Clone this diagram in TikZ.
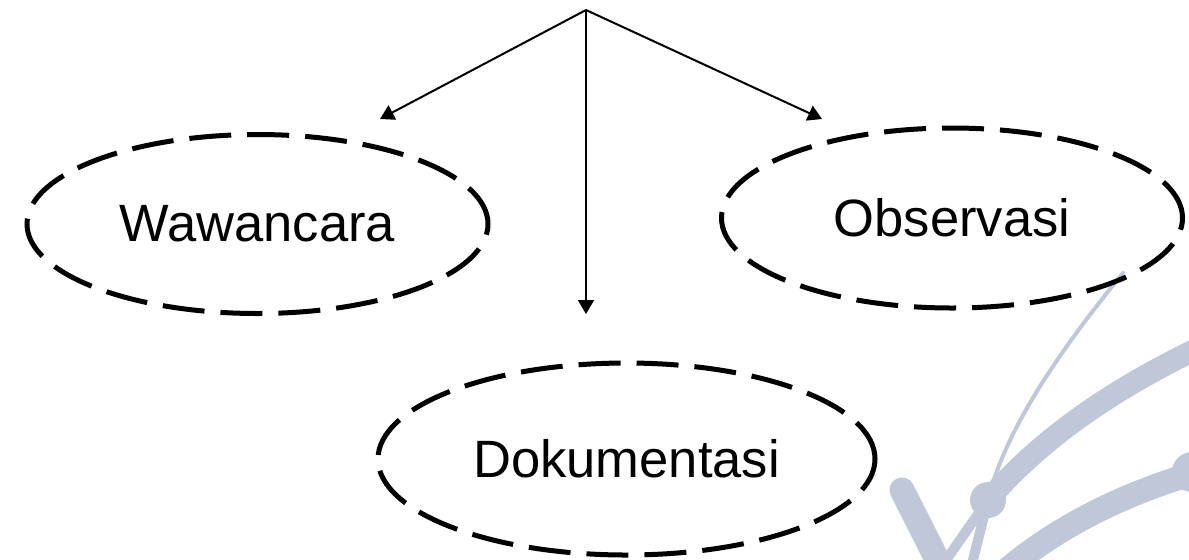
\documentclass[tikz,border=0pt]{standalone}
\usepackage{fontspec}
\setmainfont{Liberation Sans}
\usetikzlibrary{shapes.geometric,arrows.meta}

\newlength{\du}
\setlength{\du}{0.02cm}
\definecolor{logocolor}{rgb}{0.749, 0.780, 0.847}

\begin{document}
\begin{tikzpicture}[
  method/.style={ellipse, draw, line width=5\du, dash pattern=on 42\du off 16\du,
    inner sep=0pt, font=\fontsize{29.9}{36}\selectfont},
  link/.style={line width=2\du, -{Triangle[length=0.28cm,width=0.32cm]}},
  logoline/.style={draw=logocolor, line cap=round}
]
\pgftransformxscale{1.000000}
\pgftransformyscale{-1.000000}
\useasboundingbox (0\du,0\du) rectangle (1189\du,559\du);
% faint logo in the corner
\begin{scope}
\clip (0\du,0\du) rectangle (1189\du,559\du);
\draw[logoline, line width=4\du] (1123\du,273\du) .. controls (1060\du,350\du) and (1005\du,430\du) .. (988\du,500\du);
\draw[logoline, line width=22\du] (988\du,500\du) .. controls (1040\du,440\du) and (1110\du,390\du) .. (1205\du,345\du);
\draw[logoline, line width=25\du] (902\du,490\du) -- (950\du,585\du);
\draw[logoline, line width=10\du] (988\du,500\du) -- (932\du,580\du);
\draw[logoline, line width=10\du] (988\du,500\du) -- (968\du,580\du);
\draw[logoline, line width=24\du] (995\du,580\du) .. controls (1050\du,530\du) and (1120\du,495\du) .. (1195\du,473\du);
\fill[logocolor] (988\du,500\du) circle (18\du);
\fill[logocolor] (1192\du,472\du) circle (20\du);
\end{scope}
% the three methods
\node[method, minimum width=461\du, minimum height=179\du] (wawancara) at (257.5\du,224\du) {Wawancara};
\node[method, minimum width=461\du, minimum height=180\du] (observasi) at (952\du,218\du) {Observasi};
\node[method, minimum width=497\du, minimum height=192\du] (dokumentasi) at (626.5\du,459\du) {Dokumentasi};
% arrows from the top
\coordinate (root) at (586\du,10\du);
\coordinate (wawtip) at (380\du,119\du);
\coordinate (obstip) at (822\du,119\du);
\coordinate (doktip) at (586\du,314\du);
\draw[link] (root) -- (wawtip);
\draw[link] (root) -- (obstip);
\draw[link] (root) -- (doktip);
\end{tikzpicture}
\end{document}
